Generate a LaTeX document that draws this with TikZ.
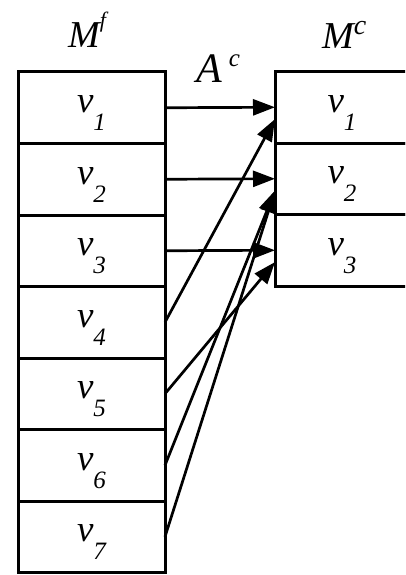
\documentclass[tikz,border=0pt]{standalone}
\usepackage{fontspec}
\setmainfont{Liberation Serif}
\usetikzlibrary{arrows.meta,positioning}

\newcommand{\vlab}[1]{\raisebox{-5pt}[0pt][0pt]{\fontsize{37}{37}\selectfont\itshape v\raisebox{-18pt}{\fontsize{25}{25}\selectfont #1}}}
\newcommand{\supl}[3]{\raisebox{#2}{\fontsize{#1}{#1}\selectfont #3}}

\begin{document}
\begin{tikzpicture}[x=1pt, y=-1pt,
    cellf/.style={rectangle, draw=black, line width=3pt, minimum width=147pt,
      minimum height=71.5pt, outer sep=0pt, inner sep=0pt},
    cellc/.style={cellf, minimum width=134pt},
    titre/.style={font=\fontsize{38}{38}\selectfont\itshape, inner sep=0pt, anchor=base west},
    fleche/.style={-{Triangle[length=22pt,width=16pt]}, line width=2.7pt}
  ]
    \clip (0,0) rectangle (405,575);
    % colonne M^f
    \node[cellf] (f1) at (91.5,107.75) {\vlab{1}};
    \node[cellf, below=0pt of f1] (f2) {\vlab{2}};
    \node[cellf, below=0pt of f2] (f3) {\vlab{3}};
    \node[cellf, below=0pt of f3] (f4) {\vlab{4}};
    \node[cellf, below=0pt of f4] (f5) {\vlab{5}};
    \node[cellf, below=0pt of f5] (f6) {\vlab{6}};
    \node[cellf, below=0pt of f6] (f7) {\vlab{7}};
    % colonne M^c
    \node[cellc] (c1) at (342,107.25) {\vlab{1}};
    \node[cellc, below=0pt of c1] (c2) {\vlab{2}};
    \node[cellc, below=0pt of c2] (c3) {\vlab{3}};
    % titres
    \node[titre] (mf) at (68,48) {M\supl{22}{20pt}{f}};
    \node[titre] (mc) at (322,49) {M\supl{28}{14pt}{c}};
    \node[titre, font=\fontsize{42}{42}\selectfont\itshape] (ac) at (196,83) {A\,\supl{25}{16pt}{c}};
    % fleches
    \draw[fleche] (f1.east) -- (c1.west);
    \draw[fleche] (f2.east) -- (c2.west);
    \draw[fleche] (f3.east) -- (c3.west);
    \draw[fleche] (f4.east) -- (c1.190);
    \draw[fleche] (f5.east) -- (c3.190);
    \draw[fleche] (f6.east) -- (c2.190);
    \draw[fleche] (f7.east) -- (c2.190);
  \end{tikzpicture}
\end{document}
